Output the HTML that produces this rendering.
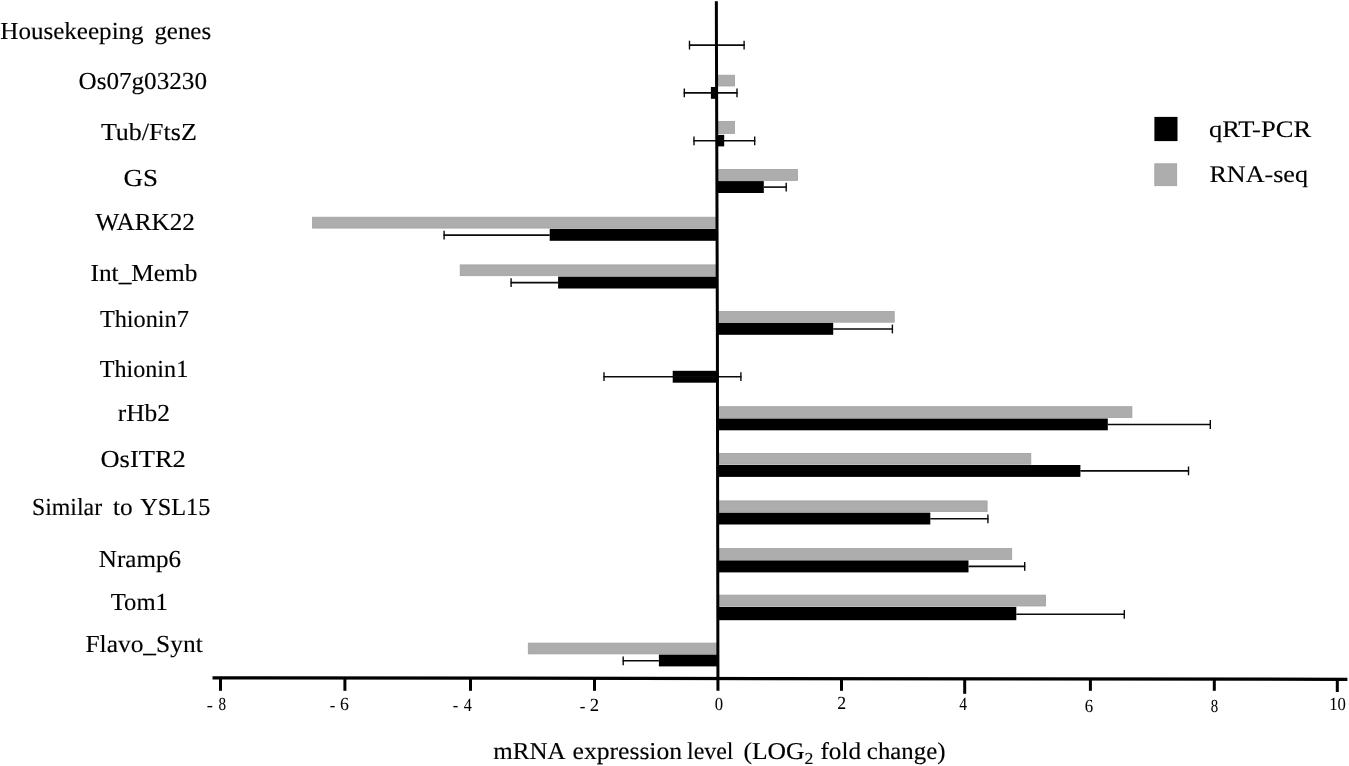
<!DOCTYPE html>
<html lang="en"><head><meta charset="utf-8"><title>mRNA expression level chart</title>
<style>
html,body{margin:0;padding:0;background:#fff;}
body{width:1349px;height:766px;overflow:hidden;}
svg{display:block;}
text{font-family:"Liberation Serif","Times New Roman",Times,serif;fill:#000;stroke:#000;stroke-width:0.15px;text-rendering:geometricPrecision;}
text.tk{stroke-width:0.05px;}
</style></head><body>
<svg width="1349" height="766" viewBox="0 0 1349 766">
<rect x="0" y="0" width="1349" height="766" fill="#fff"/>

<g id="hk">
<line x1="688.9" y1="45.1" x2="744.7" y2="45.1" stroke="#0a0a0a" stroke-width="1.6"/>
<line x1="689.5" y1="40.7" x2="689.5" y2="49.5" stroke="#0a0a0a" stroke-width="1.4"/>
<line x1="744.1" y1="40.7" x2="744.1" y2="49.5" stroke="#0a0a0a" stroke-width="1.4"/>
</g>
<g id="os07">
<rect x="717.0" y="75.2" width="17.5" height="10.8" fill="#adadad" stroke="#a0a0a0" stroke-width="0.8"/>
<rect x="710.9" y="87.0" width="5.7" height="11.8" fill="#000"/>
<line x1="683.7" y1="92.9" x2="737.6" y2="92.9" stroke="#0a0a0a" stroke-width="1.6"/>
<line x1="684.3" y1="88.5" x2="684.3" y2="97.3" stroke="#0a0a0a" stroke-width="1.4"/>
<line x1="737.0" y1="88.5" x2="737.0" y2="97.3" stroke="#0a0a0a" stroke-width="1.4"/>
</g>
<g id="tub">
<rect x="717.1" y="121.5" width="17.4" height="11.9" fill="#adadad" stroke="#a0a0a0" stroke-width="0.8"/>
<rect x="716.7" y="134.9" width="7.5" height="11.5" fill="#000"/>
<line x1="693.4" y1="140.8" x2="755.3" y2="140.8" stroke="#0a0a0a" stroke-width="1.6"/>
<line x1="694.0" y1="136.4" x2="694.0" y2="145.2" stroke="#0a0a0a" stroke-width="1.4"/>
<line x1="754.7" y1="136.4" x2="754.7" y2="145.2" stroke="#0a0a0a" stroke-width="1.4"/>
</g>
<g id="gs">
<rect x="717.2" y="169.4" width="80.3" height="11.0" fill="#adadad" stroke="#a0a0a0" stroke-width="0.8"/>
<rect x="716.8" y="181.1" width="47.0" height="11.9" fill="#000"/>
<line x1="763.8" y1="187.1" x2="786.8" y2="187.1" stroke="#0a0a0a" stroke-width="1.6"/>
<line x1="786.2" y1="182.7" x2="786.2" y2="191.5" stroke="#0a0a0a" stroke-width="1.4"/>
</g>
<g id="wark">
<rect x="312.6" y="217.2" width="403.9" height="10.9" fill="#adadad" stroke="#a0a0a0" stroke-width="0.8"/>
<rect x="549.7" y="228.9" width="167.2" height="11.9" fill="#000"/>
<line x1="443.5" y1="235.1" x2="549.7" y2="235.1" stroke="#0a0a0a" stroke-width="1.6"/>
<line x1="444.1" y1="230.7" x2="444.1" y2="239.5" stroke="#0a0a0a" stroke-width="1.4"/>
</g>
<g id="intm">
<rect x="460.2" y="264.9" width="256.4" height="10.8" fill="#adadad" stroke="#a0a0a0" stroke-width="0.8"/>
<rect x="558.1" y="276.6" width="158.9" height="11.9" fill="#000"/>
<line x1="510.5" y1="282.6" x2="558.1" y2="282.6" stroke="#0a0a0a" stroke-width="1.6"/>
<line x1="511.1" y1="278.2" x2="511.1" y2="287.0" stroke="#0a0a0a" stroke-width="1.4"/>
</g>
<g id="th7">
<rect x="717.5" y="311.5" width="176.7" height="10.7" fill="#adadad" stroke="#a0a0a0" stroke-width="0.8"/>
<rect x="717.1" y="322.9" width="116.1" height="11.9" fill="#000"/>
<line x1="833.2" y1="329.0" x2="893.0" y2="329.0" stroke="#0a0a0a" stroke-width="1.6"/>
<line x1="892.4" y1="324.6" x2="892.4" y2="333.4" stroke="#0a0a0a" stroke-width="1.4"/>
</g>
<g id="th1">
<rect x="672.7" y="370.8" width="44.5" height="11.9" fill="#000"/>
<line x1="603.4" y1="376.7" x2="741.5" y2="376.7" stroke="#0a0a0a" stroke-width="1.6"/>
<line x1="604.0" y1="372.3" x2="604.0" y2="381.1" stroke="#0a0a0a" stroke-width="1.4"/>
<line x1="740.9" y1="372.3" x2="740.9" y2="381.1" stroke="#0a0a0a" stroke-width="1.4"/>
</g>
<g id="rhb2">
<rect x="717.7" y="406.7" width="414.2" height="10.8" fill="#adadad" stroke="#a0a0a0" stroke-width="0.8"/>
<rect x="717.3" y="418.5" width="390.5" height="11.8" fill="#000"/>
<line x1="1107.8" y1="424.5" x2="1210.9" y2="424.5" stroke="#0a0a0a" stroke-width="1.6"/>
<line x1="1210.3" y1="420.1" x2="1210.3" y2="428.9" stroke="#0a0a0a" stroke-width="1.4"/>
</g>
<g id="ositr">
<rect x="717.8" y="453.4" width="313.0" height="10.8" fill="#adadad" stroke="#a0a0a0" stroke-width="0.8"/>
<rect x="717.4" y="465.0" width="363.0" height="11.9" fill="#000"/>
<line x1="1080.4" y1="470.9" x2="1189.1" y2="470.9" stroke="#0a0a0a" stroke-width="1.6"/>
<line x1="1188.5" y1="466.5" x2="1188.5" y2="475.3" stroke="#0a0a0a" stroke-width="1.4"/>
</g>
<g id="ysl">
<rect x="717.9" y="500.9" width="269.2" height="10.7" fill="#adadad" stroke="#a0a0a0" stroke-width="0.8"/>
<rect x="717.5" y="512.6" width="212.8" height="11.9" fill="#000"/>
<line x1="930.3" y1="518.8" x2="988.5" y2="518.8" stroke="#0a0a0a" stroke-width="1.6"/>
<line x1="987.9" y1="514.4" x2="987.9" y2="523.2" stroke="#0a0a0a" stroke-width="1.4"/>
</g>
<g id="nramp">
<rect x="718.0" y="548.6" width="293.7" height="10.8" fill="#adadad" stroke="#a0a0a0" stroke-width="0.8"/>
<rect x="717.6" y="560.4" width="250.9" height="12.0" fill="#000"/>
<line x1="968.5" y1="566.4" x2="1025.3" y2="566.4" stroke="#0a0a0a" stroke-width="1.6"/>
<line x1="1024.7" y1="562.0" x2="1024.7" y2="570.8" stroke="#0a0a0a" stroke-width="1.4"/>
</g>
<g id="tom1">
<rect x="718.1" y="595.1" width="327.5" height="10.9" fill="#adadad" stroke="#a0a0a0" stroke-width="0.8"/>
<rect x="717.7" y="606.9" width="298.6" height="13.3" fill="#000"/>
<line x1="1016.3" y1="614.3" x2="1124.9" y2="614.3" stroke="#0a0a0a" stroke-width="1.6"/>
<line x1="1124.3" y1="609.9" x2="1124.3" y2="618.7" stroke="#0a0a0a" stroke-width="1.4"/>
</g>
<g id="flavo">
<rect x="528.3" y="643.1" width="189.1" height="10.8" fill="#adadad" stroke="#a0a0a0" stroke-width="0.8"/>
<rect x="658.9" y="654.6" width="58.9" height="11.8" fill="#000"/>
<line x1="622.6" y1="660.8" x2="658.9" y2="660.8" stroke="#0a0a0a" stroke-width="1.6"/>
<line x1="623.2" y1="656.4" x2="623.2" y2="665.2" stroke="#0a0a0a" stroke-width="1.4"/>
</g>
<g id="axes" stroke="#000" fill="none">
<polyline points="716.35,1.2 716.45,45 716.95,200 717.4,340 717.5,420 717.9,660 717.95,690.8" stroke-width="3" stroke-linejoin="round"/>
<line x1="212.5" y1="677.8" x2="1347.4" y2="679.3" stroke-width="3.3" stroke-linecap="butt"/>
<line x1="220.5" y1="678" x2="220.5" y2="690.8" stroke-width="3"/>
<line x1="344.9" y1="678" x2="344.9" y2="690.8" stroke-width="3"/>
<line x1="470.5" y1="678" x2="470.5" y2="690.8" stroke-width="3"/>
<line x1="594.5" y1="678" x2="594.5" y2="690.8" stroke-width="3"/>
<line x1="841.5" y1="678" x2="841.5" y2="690.8" stroke-width="3"/>
<line x1="964.7" y1="678" x2="964.7" y2="693.8" stroke-width="3"/>
<line x1="1090.4" y1="678" x2="1090.4" y2="690.8" stroke-width="3"/>
<line x1="1214.3" y1="678" x2="1214.3" y2="690.8" stroke-width="3"/>
<line x1="1337.3" y1="678" x2="1337.3" y2="692.0" stroke-width="3"/>
</g>
<g id="texts">
<text x="0.31" y="39.22" font-size="24.5" textLength="143.37" lengthAdjust="spacingAndGlyphs">Housekeeping</text>
<text x="154.44" y="39.22" font-size="24.5" textLength="56.64" lengthAdjust="spacingAndGlyphs">genes</text>
<text x="78.47" y="89.28" font-size="24.5" textLength="128.52" lengthAdjust="spacingAndGlyphs">Os07g03230</text>
<text x="100.90" y="140.12" font-size="24.5" textLength="95.90" lengthAdjust="spacingAndGlyphs">Tub/FtsZ</text>
<text x="123.60" y="186.20" font-size="24.5" textLength="34.52" lengthAdjust="spacingAndGlyphs">GS</text>
<text x="95.64" y="229.82" font-size="24.5" textLength="99.27" lengthAdjust="spacingAndGlyphs">WARK22</text>
<text x="90.53" y="280.52" font-size="24.5" textLength="106.96" lengthAdjust="spacingAndGlyphs">Int_Memb</text>
<text x="99.88" y="326.92" font-size="24.5" textLength="89.04" lengthAdjust="spacingAndGlyphs">Thionin7</text>
<text x="99.74" y="377.32" font-size="24.5" textLength="88.48" lengthAdjust="spacingAndGlyphs">Thionin1</text>
<text x="117.69" y="421.12" font-size="24.5" textLength="52.30" lengthAdjust="spacingAndGlyphs">rHb2</text>
<text x="100.44" y="467.37" font-size="24.5" textLength="85.44" lengthAdjust="spacingAndGlyphs">OsITR2</text>
<text x="31.97" y="514.92" font-size="24.5" textLength="70.13" lengthAdjust="spacingAndGlyphs">Similar</text>
<text x="113.06" y="514.92" font-size="24.5" textLength="19.70" lengthAdjust="spacingAndGlyphs">to</text>
<text x="140.19" y="514.92" font-size="24.5" textLength="70.08" lengthAdjust="spacingAndGlyphs">YSL15</text>
<text x="98.83" y="566.90" font-size="24.5" textLength="82.20" lengthAdjust="spacingAndGlyphs">Nramp6</text>
<text x="110.72" y="610.40" font-size="24.5" textLength="57.17" lengthAdjust="spacingAndGlyphs">Tom1</text>
<text x="85.43" y="651.50" font-size="24.5" textLength="117.32" lengthAdjust="spacingAndGlyphs">Flavo_Synt</text>
<text x="206.65" y="711.20" font-size="18.5" class="tk" textLength="6.18" lengthAdjust="spacingAndGlyphs">-</text>
<text x="218.57" y="710.45" font-size="18.5" class="tk" textLength="7.56" lengthAdjust="spacingAndGlyphs">8</text>
<text x="329.77" y="711.20" font-size="18.5" class="tk" textLength="5.51" lengthAdjust="spacingAndGlyphs">-</text>
<text x="340.00" y="710.45" font-size="18.5" class="tk" textLength="8.85" lengthAdjust="spacingAndGlyphs">6</text>
<text x="452.69" y="711.40" font-size="18.5" class="tk" textLength="5.50" lengthAdjust="spacingAndGlyphs">-</text>
<text x="463.83" y="710.65" font-size="18.5" class="tk" textLength="8.09" lengthAdjust="spacingAndGlyphs">4</text>
<text x="579.71" y="711.60" font-size="18.5" class="tk" textLength="5.63" lengthAdjust="spacingAndGlyphs">-</text>
<text x="589.71" y="710.85" font-size="18.5" class="tk" textLength="9.30" lengthAdjust="spacingAndGlyphs">2</text>
<text x="714.65" y="710.45" font-size="18.5" class="tk" textLength="8.34" lengthAdjust="spacingAndGlyphs">0</text>
<text x="837.29" y="708.75" font-size="18.5" class="tk" textLength="8.89" lengthAdjust="spacingAndGlyphs">2</text>
<text x="959.36" y="710.45" font-size="18.5" class="tk" textLength="7.77" lengthAdjust="spacingAndGlyphs">4</text>
<text x="1084.63" y="712.05" font-size="18.5" class="tk" textLength="8.40" lengthAdjust="spacingAndGlyphs">6</text>
<text x="1210.76" y="712.05" font-size="18.5" class="tk" textLength="7.40" lengthAdjust="spacingAndGlyphs">8</text>
<text x="1329.22" y="710.45" font-size="18.5" class="tk" textLength="16.64" lengthAdjust="spacingAndGlyphs">10</text>
<text x="493.33" y="759.20" font-size="24.2" textLength="72.29" lengthAdjust="spacingAndGlyphs">mRNA</text>
<text x="572.52" y="759.20" font-size="24.2" textLength="109.58" lengthAdjust="spacingAndGlyphs">expression</text>
<text x="687.00" y="759.20" font-size="24.2" textLength="46.52" lengthAdjust="spacingAndGlyphs">level</text>
<text x="743.40" y="759.20" font-size="24.2" textLength="70.01" lengthAdjust="spacingAndGlyphs">(LOG<tspan font-size="16.8" dy="5.2">2</tspan></text>
<text x="820.43" y="759.20" font-size="24.2" textLength="40.60" lengthAdjust="spacingAndGlyphs">fold</text>
<text x="866.89" y="759.20" font-size="24.2" textLength="78.60" lengthAdjust="spacingAndGlyphs">change)</text>
<text x="1209.00" y="137.00" font-size="23.8" textLength="102.08" lengthAdjust="spacingAndGlyphs">qRT-PCR</text>
<text x="1209.46" y="181.95" font-size="23.8" textLength="98.46" lengthAdjust="spacingAndGlyphs">RNA-seq</text>
</g>
<g id="legend">
<rect x="1154.4" y="116.9" width="23.1" height="24.2" fill="#000"/>
<rect x="1154.8" y="163.8" width="21.9" height="21.9" fill="#adadad" stroke="#a0a0a0" stroke-width="0.8"/>
</g>
</svg>
</body></html>
